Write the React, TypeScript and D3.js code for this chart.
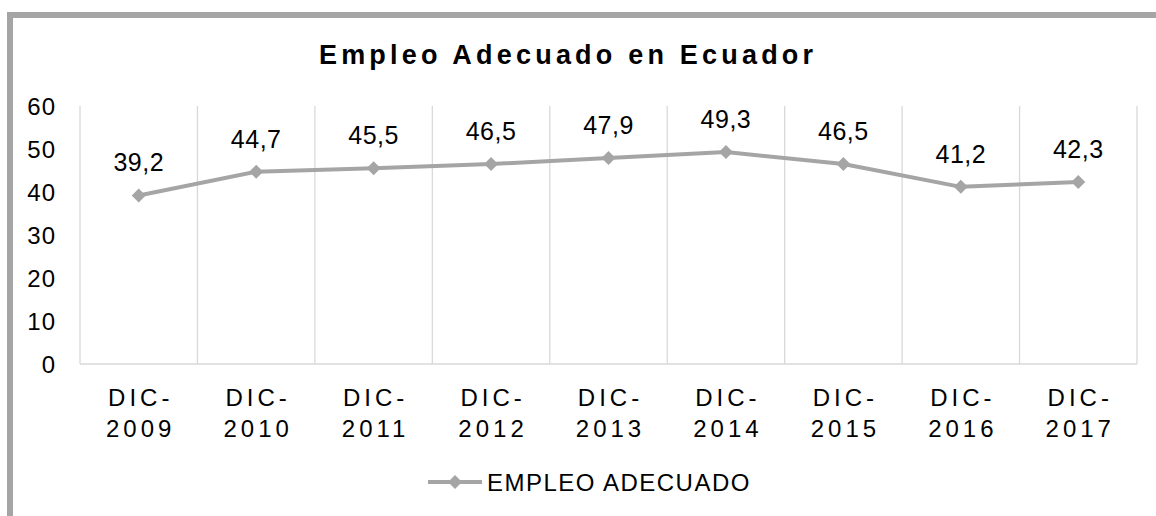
import React from "react";
import * as d3 from "d3";

const categories = ["DIC-2009", "DIC-2010", "DIC-2011", "DIC-2012", "DIC-2013", "DIC-2014", "DIC-2015", "DIC-2016", "DIC-2017"];
const values = [39.2, 44.7, 45.5, 46.5, 47.9, 49.3, 46.5, 41.2, 42.3];
const yTicks = [0, 10, 20, 30, 40, 50, 60];
const seriesName = "EMPLEO ADECUADO";
const title = "Empleo Adecuado en Ecuador";

const W = 1156;
const H = 516;
const gray = "#a5a5a5";
const grid = "#d9d9d9";
const font = "'Liberation Sans', Arial, sans-serif";

export default function App() {
  // plot area
  const left = 80, right = 1137, top = 106, bottom = 364;

  const x = d3.scaleBand<string>().domain(categories).range([left, right]).padding(0);
  const y = d3.scaleLinear().domain([0, 60]).range([bottom, top]);

  const cx = (c: string) => (x(c) as number) + x.bandwidth() / 2;

  const line = d3
    .line<number>()
    .x((d, i) => cx(categories[i]))
    .y(d => y(d));

  const diamond = (px: number, py: number, r: number) =>
    `M${px},${py - r}L${px + r},${py}L${px},${py + r}L${px - r},${py}Z`;

  const fmt = (v: number) => v.toFixed(1).replace(".", ",");

  return (
    <svg
      width={W}
      height={H}
      style={{ position: "absolute", left: 0, top: 0, background: "#fff" }}
      fontFamily={font}
    >
      <rect x={0} y={0} width={W} height={H} fill="#fff" />

      {/* frame (top + left) */}
      <path d={`M10,${H}L10,15L${W},15`} fill="none" stroke={gray} strokeWidth={6} />

      {/* title */}
      <text
        x={566 + 2.1}
        y={64}
        textAnchor="middle"
        fontSize={27}
        fontWeight="bold"
        letterSpacing={4.2}
        fill="#000"
      >
        {title}
      </text>

      {/* vertical gridlines at category boundaries */}
      {categories.map(c => (
        <line key={c} x1={x(c)} x2={x(c)} y1={top} y2={bottom} stroke={grid} strokeWidth={1.3} />
      ))}
      <line x1={right} x2={right} y1={top} y2={bottom} stroke={grid} strokeWidth={1.3} />
      <line x1={left} x2={right} y1={bottom} y2={bottom} stroke={grid} strokeWidth={1.3} />

      {/* y tick labels */}
      {yTicks.map(t => (
        <text key={t} x={56} y={y(t) + 8.5} textAnchor="end" fontSize={24} letterSpacing={1} fill="#000">
          {t}
        </text>
      ))}

      {/* x tick labels */}
      {categories.map(c => {
        const [a, b] = c.split("-");
        return (
          <text key={c} textAnchor="middle" fontSize={24} letterSpacing={4} fill="#000">
            <tspan x={cx(c) + 2} y={406}>{a + "-"}</tspan>
            <tspan x={cx(c) + 2} y={437}>{b}</tspan>
          </text>
        );
      })}

      {/* series line */}
      <path d={line(values) || ""} fill="none" stroke={gray} strokeWidth={4} strokeLinejoin="round" />
      {values.map((v, i) => (
        <path key={i} d={diamond(cx(categories[i]), y(v), 7)} fill={gray} />
      ))}

      {/* data labels */}
      {values.map((v, i) => (
        <text key={i} x={cx(categories[i])} y={y(v) - 24} textAnchor="middle" fontSize={25} letterSpacing={0.5} fill="#000">
          {fmt(v)}
        </text>
      ))}

      {/* legend */}
      <line x1={428} x2={482} y1={482} y2={482} stroke={gray} strokeWidth={4} />
      <path d={diamond(455, 482, 7)} fill={gray} />
      <text x={487} y={491} fontSize={24} letterSpacing={1.5} fill="#000">
        {seriesName}
      </text>
    </svg>
  );
}
